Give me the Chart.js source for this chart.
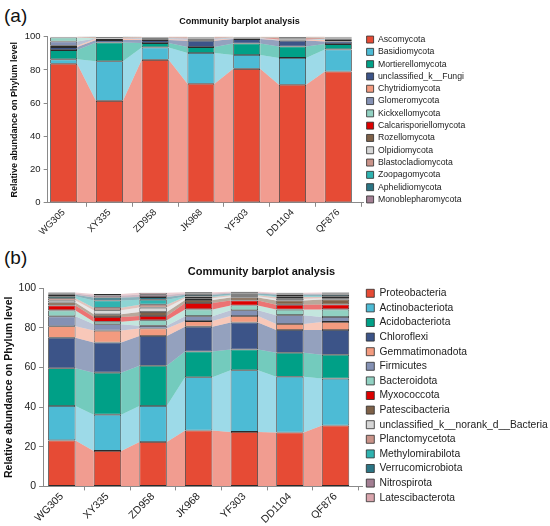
<!DOCTYPE html>
<html>
<head>
<meta charset="utf-8">
<script src="https://cdn.jsdelivr.net/npm/chart.js@4.4.1/dist/chart.umd.min.js"></script>
<style>
  body { margin: 0; background: #fff; width: 550px; height: 526px; position: relative; overflow: hidden; }
  .wrap { position: absolute; left: 0; }
  .tag { position: absolute; left: 4px; font: 19px "Liberation Sans", Arial, sans-serif; color: #111; }
</style>
</head>
<body>
<div class="tag" style="top:5px">(a)</div>
<div class="tag" style="top:247px">(b)</div>
<div class="wrap" style="top:0;width:475px;height:245px"><canvas id="chartA"></canvas></div>
<div class="wrap" style="top:255px;width:550px;height:271px"><canvas id="chartB"></canvas></div>
<script>
// samples (same for both panels)
const samples = ['WG305', 'XY335', 'ZD958', 'JK968', 'YF303', 'DD1104', 'QF876'];

// ---- (a) fungi, phylum level (%) ----
const fungiPhyla = ['Ascomycota', 'Basidiomycota', 'Mortierellomycota', 'unclassified_k__Fungi',
  'Chytridiomycota', 'Glomeromycota', 'Kickxellomycota', 'Calcarisporiellomycota', 'Rozellomycota',
  'Olpidiomycota', 'Blastocladiomycota', 'Zoopagomycota', 'Aphelidiomycota', 'Monoblepharomycota'];
const ascomycota        = [83.8, 61.4, 86.1, 71.7, 80.7, 71.1, 79.1];
const basidiomycota     = [2.6, 23.9, 7.5, 18.5, 8.3, 16.2, 13.3];
const mortierellomycota = [5.6, 11.3, 2.6, 3.6, 7.0, 6.9, 3.2];
const unclassifiedFungi = [1.8, 1.4, 1.8, 3.8, 2.6, 3.5, 1.6];
const chytridiomycota   = [0.8, 0.8, 0.5, 0.6, 0.4, 0.3, 0.8];
const glomeromycota     = [2.6, 0.2, 0.6, 0.8, 0.3, 0.2, 0.5];
const kickxellomycota   = [2.4, 0.2, 0.2, 0.2, 0.1, 0.1, 0.3];
const calcarisporiello  = [0.1, 0.1, 0.1, 0.2, 0.1, 0.7, 0.2];
const rozellomycota     = [0.1, 0.4, 0.3, 0.3, 0.3, 0.8, 0.6];
const olpidiomycota     = [0.1, 0.1, 0.2, 0.1, 0.1, 0.1, 0.2];
const blastocladiomycota= [0.1, 0.1, 0.1, 0.2, 0.1, 0.1, 0.2];
const zoopagomycota     = [0, 0.05, 0, 0, 0, 0, 0];
const aphelidiomycota   = [0, 0.05, 0, 0, 0, 0, 0];
const monoblepharomycota= [0, 0, 0, 0, 0, 0, 0];
const fungiValues = [ascomycota, basidiomycota, mortierellomycota, unclassifiedFungi, chytridiomycota,
  glomeromycota, kickxellomycota, calcarisporiello, rozellomycota, olpidiomycota, blastocladiomycota,
  zoopagomycota, aphelidiomycota, monoblepharomycota];

// ---- (b) bacteria, phylum level (%) ----
const bactPhyla = ['Proteobacteria', 'Actinobacteriota', 'Acidobacteriota', 'Chloroflexi', 'Gemmatimonadota',
  'Firmicutes', 'Bacteroidota', 'Myxococcota', 'Patescibacteria', 'unclassified_k__norank_d__Bacteria',
  'Planctomycetota', 'Methylomirabilota', 'Verrucomicrobiota', 'Nitrospirota', 'Latescibacterota'];
const proteobacteria   = [23.2, 17.9, 22.4, 28.2, 27.5, 27.2, 30.7];
const actinobacteriota = [17.4, 18.3, 18.2, 26.9, 31.1, 28.1, 23.7];
const acidobacteriota  = [19.0, 21.2, 20.3, 13.0, 10.5, 12.1, 12.0];
const chloroflexi      = [15.4, 15.2, 15.0, 12.5, 13.6, 11.5, 12.5];
const gemmatimonadota  = [5.8, 6.0, 3.8, 2.8, 3.3, 3.0, 4.1];
const firmicutes       = [5.0, 3.2, 1.3, 2.5, 2.9, 4.5, 2.5];
const bacteroidota     = [3.0, 1.3, 2.8, 3.4, 2.4, 2.8, 3.8];
const myxococcota      = [2.5, 2.4, 2.2, 3.2, 2.5, 2.5, 2.5];
const patescibacteria  = [1.5, 1.3, 2.0, 1.6, 1.5, 2.1, 2.5];
const unclassifiedBact = [1.0, 2.1, 2.2, 0.8, 0.7, 0.9, 0.6];
const planctomycetota  = [1.1, 1.2, 1.5, 0.6, 0.5, 0.8, 0.6];
const methylomirabilota= [1.0, 3.7, 2.5, 0.3, 0.2, 0.5, 0.4];
const verrucomicrobiota= [0.8, 1.5, 1.3, 0.9, 0.6, 0.8, 0.9];
const nitrospirota     = [0.6, 1.0, 1.2, 0.6, 0.4, 0.5, 0.5];
const latescibacterota = [0.5, 0.8, 1.0, 0.7, 0.5, 0.4, 0.5];
const bactValues = [proteobacteria, actinobacteriota, acidobacteriota, chloroflexi, gemmatimonadota,
  firmicutes, bacteroidota, myxococcota, patescibacteria, unclassifiedBact, planctomycetota,
  methylomirabilota, verrucomicrobiota, nitrospirota, latescibacterota];

const yTicks = [0, 20, 40, 60, 80, 100];

const fungiColors = ['#e64b35', '#4dbbd5', '#00a087', '#3c5488', '#f39b7f', '#8491b4', '#91d1c2',
  '#dc0000', '#7e6148', '#d6d6d6', '#c99389', '#2fb3b0', '#2b7585', '#a37f93'];
const bactColors = ['#e64b35', '#4dbbd5', '#00a087', '#3c5488', '#f39b7f', '#8491b4', '#91d1c2',
  '#dc0000', '#7e6148', '#d6d6d6', '#c99389', '#2fb3b0', '#2b7585', '#a37f93', '#d9a5ad'];

const FONT = '"Liberation Sans", Arial, sans-serif';

function fade(hex, a) {
  const n = parseInt(hex.slice(1), 16);
  return `rgba(${(n >> 16) & 255},${(n >> 8) & 255},${n & 255},${a})`;
}

// draws the light bands joining the same segment of neighbouring bars
const bandPlugin = {
  id: 'bands',
  beforeDatasetsDraw(chart) {
    const ctx = chart.ctx;
    chart.data.datasets.forEach((ds, d) => {
      const meta = chart.getDatasetMeta(d);
      if (meta.hidden) return;
      ctx.save();
      ctx.fillStyle = ds.bandColor;
      for (let i = 0; i < meta.data.length - 1; i++) {
        const a = meta.data[i].getProps(['x', 'y', 'base', 'width'], true);
        const b = meta.data[i + 1].getProps(['x', 'y', 'base', 'width'], true);
        ctx.beginPath();
        ctx.moveTo(a.x + a.width / 2, a.y);
        ctx.lineTo(b.x - b.width / 2, b.y);
        ctx.lineTo(b.x - b.width / 2, b.base);
        ctx.lineTo(a.x + a.width / 2, a.base);
        ctx.closePath();
        ctx.fill();
      }
      ctx.restore();
    });
  }
};

// small nudges: the original title / legend are not exactly where chart.js centres them
const nudge = {
  id: 'nudge',
  afterLayout(chart, args, opts) {
    const t = chart.titleBlock, l = chart.legend;
    if (t && opts.titleDx) { t.left += opts.titleDx; t.right += opts.titleDx; }
    if (l && opts.legendDy) { l.top += opts.legendDy; l.bottom += opts.legendDy; }
  }
};

function makeChart(canvasId, names, values, colors, s) {
  const datasets = names.map((name, k) => ({
    label: name,
    data: values[k].map((v, i) => ({ x: i, y: v })),
    backgroundColor: colors[k],
    bandColor: fade(colors[k], 0.55),
    borderColor: '#2b2b2b',
    borderWidth: 0.8,
    borderSkipped: false,
    barPercentage: s.barPct,
    categoryPercentage: 1
  }));
  const axisGrid = { drawOnChartArea: false, drawTicks: true, tickLength: s.tickLen, color: '#8a8a8a' };
  return new Chart(document.getElementById(canvasId), {
    type: 'bar',
    data: { datasets },
    options: {
      responsive: true,
      maintainAspectRatio: false,
      animation: false,
      layout: { padding: s.padding },
      plugins: {
        nudge: { titleDx: s.titleDx, legendDy: s.legendDy },
        title: {
          display: true,
          text: 'Community barplot analysis',
          color: '#111',
          font: { family: FONT, size: s.titleSize, weight: 'bold' },
          padding: s.titlePad
        },
        legend: {
          position: 'right',
          maxWidth: s.legendMax,
          labels: {
            boxWidth: s.box, boxHeight: s.box,
            padding: s.legendPad,
            color: '#222',
            font: { family: FONT, size: s.legendSize }
          }
        },
        tooltip: { enabled: false }
      },
      scales: {
        x: {
          type: 'linear',
          stacked: true,
          offset: false,
          min: s.xMin, max: s.xMax,
          grid: axisGrid,
          border: { color: '#8a8a8a' },
          // rotated names may hang past the axis, as in the original
          afterFit: axis => { axis.paddingLeft = 0; axis.paddingRight = 0; },
          ticks: {
            stepSize: 1,
            includeBounds: false,
            autoSkip: false,
            minRotation: 45, maxRotation: 45,
            padding: 0,
            color: '#222',
            font: { family: FONT, size: s.tickSize },
            callback: v => (Number.isInteger(v) && v >= 0 && v < samples.length) ? samples[v] : ''
          }
        },
        y: {
          stacked: true,
          min: yTicks[0], max: yTicks[yTicks.length - 1],
          grid: axisGrid,
          border: { color: '#8a8a8a' },
          afterBuildTicks: axis => { axis.ticks = yTicks.map(v => ({ value: v })); },
          ticks: { color: '#222', padding: 3, font: { family: FONT, size: s.tickSize } },
          title: {
            display: true,
            text: 'Relative abundance on Phylum level',
            color: '#111',
            padding: { top: 0, bottom: s.yTitleGap },
            font: { family: FONT, size: s.axisTitleSize, weight: 'bold' }
          }
        }
      }
    },
    plugins: [bandPlugin, nudge]
  });
}

makeChart('chartA', fungiPhyla, fungiValues, fungiColors, {
  barPct: 0.59, xMin: -0.35, xMax: 6.54,
  padding: { left: 9, right: 5, top: 0, bottom: 6 },
  titleSize: 9, titlePad: { top: 16, bottom: 10 }, titleDx: 0,
  box: 7, legendPad: 3.6, legendSize: 8.7, legendMax: 107, legendDy: 0,
  tickSize: 9.5, tickLen: 4, axisTitleSize: 9, yTitleGap: 2
});

makeChart('chartB', bactPhyla, bactValues, bactColors, {
  barPct: 0.6, xMin: -0.41, xMax: 6.58,
  padding: { left: 3, right: 0, top: 0, bottom: 0 },
  titleSize: 11, titlePad: { top: 10, bottom: 10 }, titleDx: -15,
  box: 8, legendPad: 4.3, legendSize: 10.3, legendMax: 188, legendDy: 5,
  tickSize: 10.5, tickLen: 4, axisTitleSize: 10.5, yTitleGap: 0
});
</script>
</body>
</html>
